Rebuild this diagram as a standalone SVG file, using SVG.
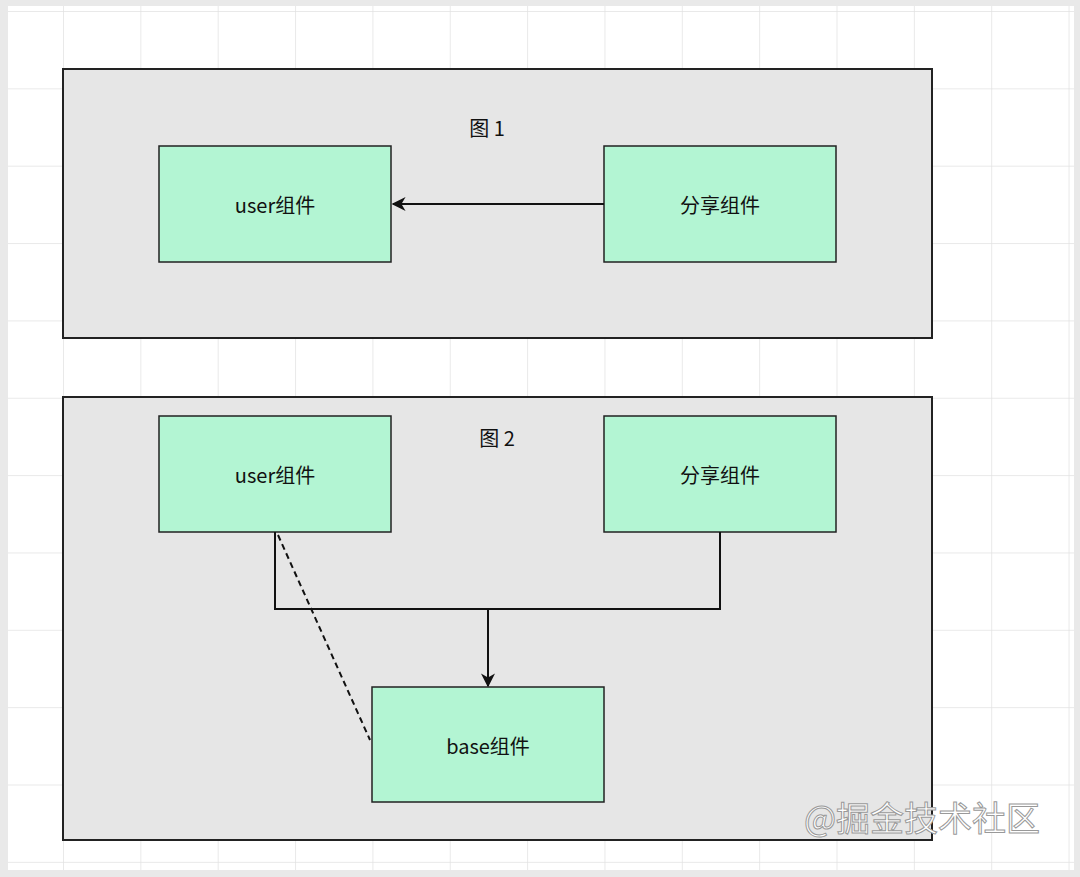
<svg xmlns="http://www.w3.org/2000/svg" width="1080" height="877" viewBox="0 0 1080 877">
<defs>
<pattern id="grid" x="63" y="11" width="77.35" height="77.35" patternUnits="userSpaceOnUse">
<path d="M0 0V77.35M0 0H77.35" fill="none" stroke="#e2e2e2" stroke-width="1.5"/>
</pattern>
<marker id="a2" viewBox="0 0 10 10" refX="9" refY="5" markerWidth="14" markerHeight="14" orient="auto" markerUnits="userSpaceOnUse">
<path d="M0 0L10 5L0 10L3 5Z" fill="#111"/>
</marker>
</defs>
<style>
.frame{fill:#e6e6e6;stroke:#222;stroke-width:2}
.box{fill:#b3f5d3;stroke:#222;stroke-width:1.5}
.t{font-family:"Noto Sans CJK SC","Liberation Sans",sans-serif;font-size:20px;fill:#111;text-anchor:middle;dominant-baseline:central}
.c{fill:none;stroke:#111;stroke-width:2}
</style>
<rect width="1080" height="877" fill="#e9e9e9"/>
<rect x="8" y="6" width="1066" height="864" fill="#fff"/>
<rect x="8" y="6" width="1066" height="864" fill="url(#grid)"/>
<g id="frame1"><rect class="frame" x="63" y="69" width="869" height="269"/><text class="t" x="487" y="127">图 1</text></g>
<g id="frame2"><rect class="frame" x="63" y="397" width="869" height="443"/><text class="t" x="497" y="437">图 2</text></g>
<g id="user1"><rect class="box" x="159" y="146" width="232" height="116"/><text class="t" x="275" y="204">user组件</text></g>
<g id="share1"><rect class="box" x="604" y="146" width="232" height="116"/><text class="t" x="720" y="204">分享组件</text></g>
<g id="user2"><rect class="box" x="159" y="416" width="232" height="116"/><text class="t" x="275" y="474">user组件</text></g>
<g id="share2"><rect class="box" x="604" y="416" width="232" height="116"/><text class="t" x="720" y="474">分享组件</text></g>
<g id="base"><rect class="box" x="372" y="687" width="232" height="115"/><text class="t" x="488" y="745">base组件</text></g>
<g id="connectors">
<line class="c" x1="604" y1="204" x2="393" y2="204" marker-end="url(#a2)"/>
<path class="c" d="M275 532V609H720V532"/>
<line class="c" x1="488" y1="609" x2="488" y2="686" marker-end="url(#a2)"/>
<line class="c" x1="278" y1="535" x2="370" y2="740" stroke-dasharray="6 4" stroke="#444"/>
</g>
<text x="922" y="831" font-family="Noto Sans CJK SC,sans-serif" font-size="34" fill="#fff" stroke="#999" stroke-width="1" text-anchor="middle">@掘金技术社区</text>
</svg>
